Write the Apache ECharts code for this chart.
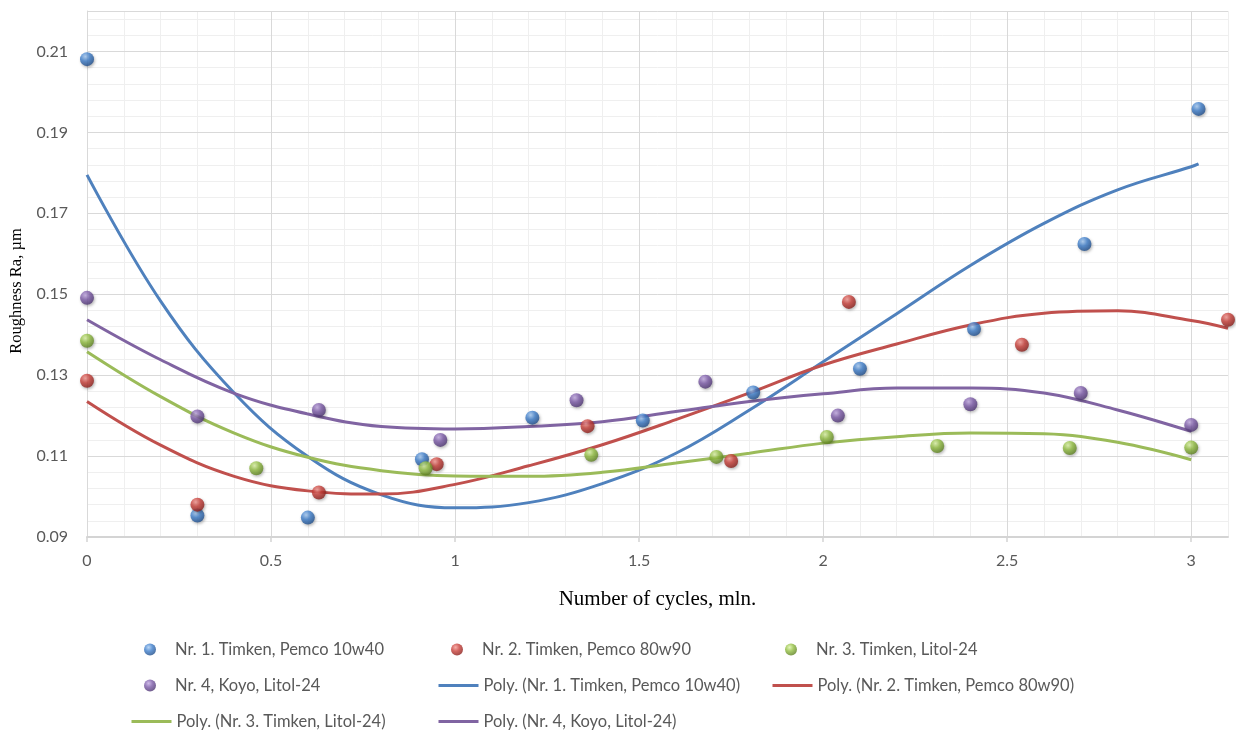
<!DOCTYPE html>
<html>
<head>
<meta charset="utf-8">
<script src="https://cdn.jsdelivr.net/npm/echarts@6/dist/echarts.min.js"></script>
<style>
html,body{margin:0;padding:0;background:#fff;}
#chart{width:1236px;height:731px;}
</style>
</head>
<body>
<div id="chart"></div>
<script>
// ---- Data ----
const seriesNames = [
  'Nr. 1. Timken, Pemco 10w40',
  'Nr. 2. Timken, Pemco 80w90',
  'Nr. 3. Timken, Litol-24',
  'Nr. 4, Koyo, Litol-24'
];
const trendNames = [
  'Poly. (Nr. 1. Timken, Pemco 10w40)',
  'Poly. (Nr. 2. Timken, Pemco 80w90)',
  'Poly. (Nr. 3. Timken, Litol-24)',
  'Poly. (Nr. 4, Koyo, Litol-24)'
];

const s1X = [0, 0.3, 0.6, 0.91, 1.21, 1.51, 1.81, 2.1, 2.41, 2.71, 3.02];
const s1Y = [0.2081, 0.0953, 0.0948, 0.1092, 0.1195, 0.1188, 0.1257, 0.1316, 0.1414, 0.1624, 0.1958];
const s2X = [0, 0.3, 0.63, 0.95, 1.36, 1.75, 2.07, 2.54, 3.1];
const s2Y = [0.1286, 0.0980, 0.1010, 0.1080, 0.1174, 0.1088, 0.1481, 0.1375, 0.1437];
const s3X = [0, 0.46, 0.92, 1.37, 1.71, 2.01, 2.31, 2.67, 3.0];
const s3Y = [0.1385, 0.1070, 0.1070, 0.1103, 0.1098, 0.1147, 0.1125, 0.1120, 0.1121];
const s4X = [0, 0.3, 0.63, 0.96, 1.33, 1.68, 2.04, 2.4, 2.7, 3.0];
const s4Y = [0.1491, 0.1198, 0.1214, 0.1140, 0.1238, 0.1284, 0.1200, 0.1228, 0.1256, 0.1177];

// Trend lines
const trendX = [0, 0.2, 0.4, 0.6, 0.8, 1.0, 1.2, 1.4, 1.6, 1.8, 2.0, 2.2, 2.4, 2.6, 2.8, 3.0];
const t1X = trendX.concat([3.02]);
const t1Y = [0.1795, 0.1483, 0.1256, 0.1099, 0.1004, 0.0972, 0.0985, 0.1032, 0.1107, 0.1214, 0.1333, 0.1452, 0.1571, 0.1675, 0.1758, 0.1815, 0.1822];
const t2X = trendX.concat([3.1]);
const t2Y = [0.1235, 0.1127, 0.1050, 0.1014, 0.1006, 0.1030, 0.1076, 0.1128, 0.1190, 0.1256, 0.1325, 0.1377, 0.1424, 0.1453, 0.1459, 0.1435, 0.1416];
const t3X = trendX;
const t3Y = [0.1358, 0.1247, 0.1157, 0.1097, 0.1064, 0.1051, 0.1050, 0.1060, 0.1083, 0.1107, 0.1132, 0.1148, 0.1157, 0.1155, 0.1134, 0.1091];
const t4X = trendX;
const t4Y = [0.1437, 0.1338, 0.1255, 0.1204, 0.1173, 0.1167, 0.1173, 0.1185, 0.1210, 0.1235, 0.1254, 0.1268, 0.1268, 0.1256, 0.1214, 0.1161];

const xTicks = [0, 0.5, 1, 1.5, 2, 2.5, 3];
const yTicks = [0.09, 0.11, 0.13, 0.15, 0.17, 0.19, 0.21];

const xTitle = 'Number of cycles, mln.';
const yTitle = 'Roughness Ra, µm';

// Legend order as laid out in the reference (row by row, 3 columns)
const legendRows = [
  [seriesNames[0], seriesNames[1], seriesNames[2]],
  [seriesNames[3], trendNames[0], trendNames[1]],
  [trendNames[2], trendNames[3]]
];

// ---- Styling ----
const lineColors = ['#4F81BD', '#C0504D', '#9BBB59', '#8064A2'];
const sphere = [
  ['#a9cdf5', '#3f7fcc', '#1d4a86'],
  ['#f59a94', '#c9403a', '#861c18'],
  ['#def5a8', '#93bf42', '#5a7d1f'],
  ['#c3abe3', '#7d5ca9', '#4a326e']
];
function sphereColor(i) {
  return {
    type: 'radial', x: 0.38, y: 0.32, r: 0.72,
    colorStops: [
      {offset: 0, color: sphere[i][0]},
      {offset: 0.45, color: sphere[i][1]},
      {offset: 1, color: sphere[i][2]}
    ]
  };
}
function zip(xs, ys) { return xs.map((x, k) => [x, ys[k]]); }

const scatterX = [s1X, s2X, s3X, s4X];
const scatterY = [s1Y, s2Y, s3Y, s4Y];
const trX = [t1X, t2X, t3X, t4X];
const trY = [t1Y, t2Y, t3Y, t4Y];

const labelFont = 'Lato, "Open Sans", sans-serif';
const series = [];
for (let i = 0; i < 4; i++) {
  series.push({
    name: trendNames[i],
    type: 'line',
    data: zip(trX[i], trY[i]),
    smooth: 0.4,
    symbol: 'none',
    lineStyle: {color: lineColors[i], width: 3},
    itemStyle: {color: lineColors[i]},
    z: 3,
    silent: true
  });
}
for (let i = 0; i < 4; i++) {
  series.push({
    name: seriesNames[i],
    type: 'scatter',
    data: zip(scatterX[i], scatterY[i]),
    symbol: 'circle',
    symbolSize: 14,
    itemStyle: {
      color: sphereColor(i),
      shadowBlur: 3,
      shadowColor: 'rgba(0,0,0,0.35)',
      shadowOffsetX: 1,
      shadowOffsetY: 1.5
    },
    z: 5
  });
}

const colLeft = [130, 437, 771];
const rowTop = [641, 677, 713];
const legends = [];
legendRows.forEach((row, r) => {
  row.forEach((name, c) => {
    const isTrend = trendNames.indexOf(name) >= 0;
    const item = isTrend ? {name: name, itemStyle: {opacity: 0}} : {name: name};
    legends.push({
      orient: 'horizontal',
      left: colLeft[c] + (isTrend ? 0 : 14), top: rowTop[r],
      padding: 0,
      itemWidth: 40,
      itemHeight: 12,
      lineStyle: {width: 3},
      textStyle: {color: '#595959', fontSize: 16.5, lineHeight: 16, fontFamily: labelFont},
      data: [item]
    });
  });
});

const option = {
  animation: false,
  backgroundColor: '#ffffff',
  grid: {left: 87, right: 8, top: 11, bottom: 194, containLabel: false},
  xAxis: [
    {
      type: 'value', min: 0, max: 3.1, interval: 0.5, z: 2,
      name: xTitle, nameLocation: 'middle', nameGap: 52,
      nameTextStyle: {fontFamily: '"Liberation Serif", "Times New Roman", serif', fontSize: 21, color: '#000'},
      axisLine: {show: true, onZero: false, lineStyle: {color: '#d4d4d4', width: 2}},
      axisTick: {show: true, length: 5, lineStyle: {color: '#d4d4d4', width: 1.5}, customValues: xTicks},
      axisLabel: {color: '#595959', fontSize: 16, fontFamily: labelFont, margin: 16, customValues: xTicks},
      splitLine: {show: true, lineStyle: {color: '#d9d9d9', width: 1}}
    },
    {
      type: 'value', min: 0, max: 3.1, interval: 0.1, z: 1, position: 'top',
      axisLine: {show: false}, axisTick: {show: false}, axisLabel: {show: false},
      splitLine: {show: true, lineStyle: {color: '#efefef', width: 1}}
    }
  ],
  yAxis: [
    {
      type: 'value', min: 0.09, max: 0.22, interval: 0.02, z: 2,
      axisLine: {show: true, onZero: false, lineStyle: {color: '#d9d9d9', width: 1}},
      axisTick: {show: false},
      axisLabel: {
        color: '#595959', fontSize: 16, fontFamily: labelFont, margin: 19,
        customValues: yTicks,
        formatter: v => Number(v).toFixed(2)
      },
      splitLine: {show: true, lineStyle: {color: '#d9d9d9', width: 1}}
    },
    {
      type: 'value', min: 0.09, max: 0.22, interval: 0.004, z: 1, position: 'right',
      axisLine: {show: false}, axisTick: {show: false}, axisLabel: {show: false},
      splitLine: {show: true, lineStyle: {color: '#efefef', width: 1}}
    }
  ],
  legend: legends,
  graphic: [
    {
      type: 'text',
      x: 17, y: 291,
      rotation: Math.PI / 2,
      style: {
        text: yTitle, fill: '#000',
        font: '16.5px "Liberation Serif", "Times New Roman", serif',
        align: 'center', verticalAlign: 'middle'
      }
    }
  ],
  series: series
};

const chart = echarts.init(document.getElementById('chart'), null, {renderer: 'canvas'});
chart.setOption(option);
</script>
</body>
</html>
